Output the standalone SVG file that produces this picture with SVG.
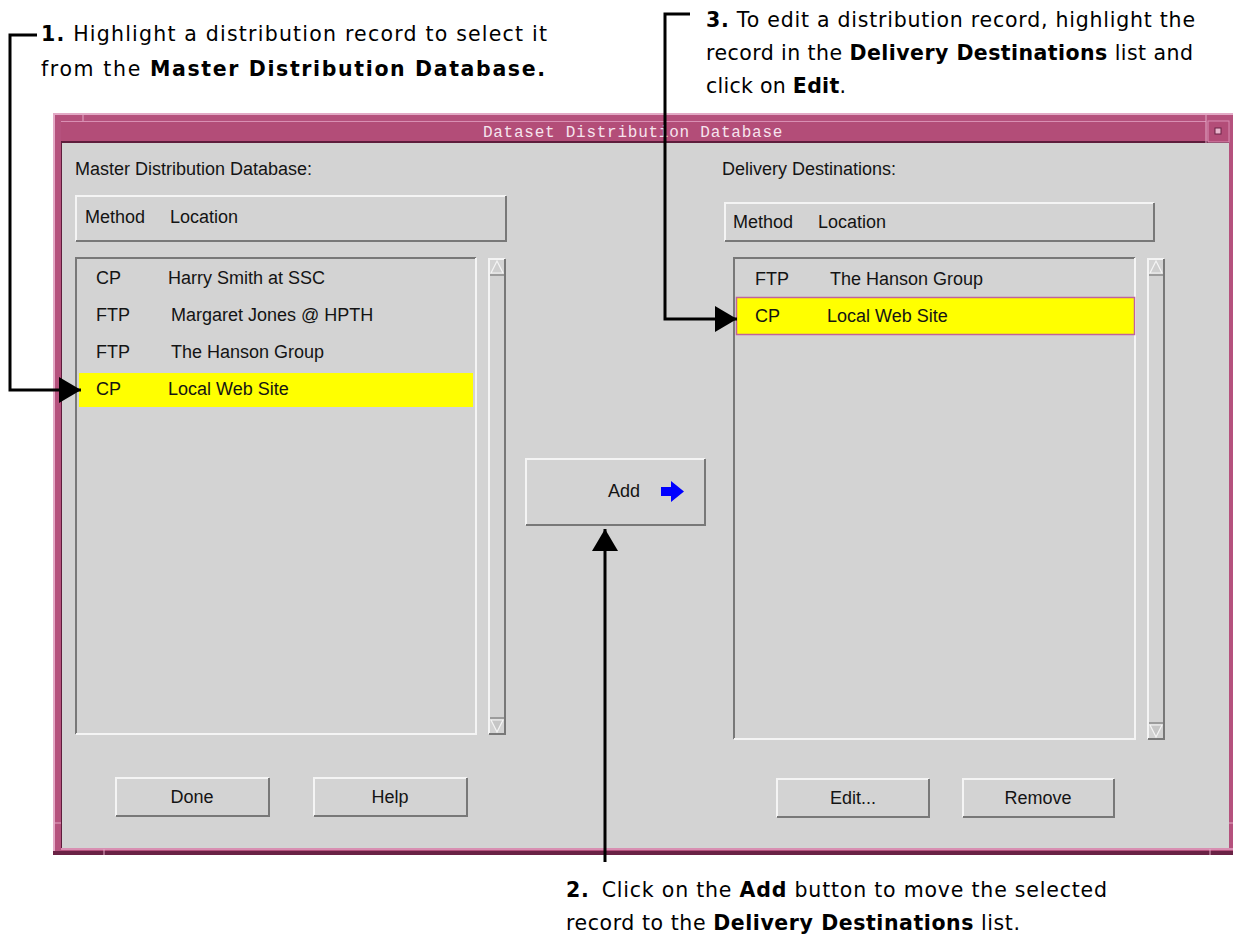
<svg xmlns="http://www.w3.org/2000/svg" width="1233" height="937" viewBox="0 0 1233 937">
<defs>
<style>
.face{fill:#d3d3d3}
.hi{stroke:#f4f4f4;stroke-width:2;fill:none}
.sh{stroke:#787878;stroke-width:2;fill:none}
.ui{font-family:"Liberation Sans",Arial,sans-serif;font-size:18px;fill:#141414}
.title{font-family:"Liberation Mono","DejaVu Sans Mono",monospace;font-size:16px;fill:#f6e4ee;letter-spacing:0.75px}
.note{font-family:"DejaVu Sans",sans-serif;font-size:20.5px;fill:#000}
.b{font-weight:bold}
.conn{stroke:#000;stroke-width:3;fill:none}
.sel{fill:#ffff00}
</style>
<marker id="ah" markerUnits="userSpaceOnUse" markerWidth="23" markerHeight="26" refX="22" refY="13" orient="auto">
<path d="M0,0 L22,13 L0,26 Z" fill="#000"/>
</marker>
</defs>
<rect width="1233" height="937" fill="#fff"/>

<g id="window">
<rect x="53" y="113" width="1180" height="742" fill="#b5517d"/>
<path d="M53,114 H1233 M54,113 V855" stroke="#e3aac6" stroke-width="2"/>
<path d="M53,853 H1233" stroke="#6a2245" stroke-width="4"/>
<path d="M61,849 H1233" stroke="#d88fb2" stroke-width="2"/>
<rect x="61" y="121" width="1145" height="21" fill="#b34d78"/>
<path d="M61,121.5 H1206" stroke="#d98fb3" stroke-width="1"/>
<path d="M61,142 H1229" stroke="#5e1d3c" stroke-width="2"/>
<path d="M83,113 V121 M1206,113 V143 M61,823 H53 M1229,823 H1233 M104,849 V855 M1210,849 V855" stroke="#e3aac6" stroke-width="1"/>
<rect x="1208" y="121" width="21" height="21" fill="#b34d78" stroke="#d98fb3" stroke-width="1"/>
<rect x="1215" y="128" width="6" height="6" fill="#e8b6cd" stroke="#6a2245" stroke-width="1"/>
<rect x="61" y="143" width="1168" height="705" class="face"/>
<path d="M61.5,143 V848" stroke="#5e1d3c" stroke-width="1"/>
<text x="633" y="137" class="title" text-anchor="middle">Dataset Distribution Database</text>
</g>

<g id="labels">
<text x="75" y="175" class="ui">Master Distribution Database:</text>
<text x="722" y="175" class="ui">Delivery Destinations:</text>
</g>

<g id="header-left">
<rect x="75" y="195" width="432" height="47" class="face"/>
<path d="M76,241 V196 H506" class="hi"/>
<path d="M76,241 H506 V196" class="sh"/>
<text x="85" y="223" class="ui">Method</text>
<text x="170" y="223" class="ui">Location</text>
</g>

<g id="header-right">
<rect x="724" y="202" width="431" height="40" class="face"/>
<path d="M725,241 V203 H1154" class="hi"/>
<path d="M725,241 H1154 V203" class="sh"/>
<text x="733" y="228" class="ui">Method</text>
<text x="818" y="228" class="ui">Location</text>
</g>

<g id="list-left">
<rect x="75" y="257" width="402" height="478" class="face"/>
<path d="M76,734 V258 H476" class="sh"/>
<path d="M76,734 H476 V258" class="hi"/>
<text x="96" y="284" class="ui">CP</text><text x="168" y="284" class="ui">Harry Smith at SSC</text>
<text x="96" y="321" class="ui">FTP</text><text x="171" y="321" class="ui">Margaret Jones @ HPTH</text>
<text x="96" y="358" class="ui">FTP</text><text x="171" y="358" class="ui">The Hanson Group</text>
<rect x="79" y="373" width="394" height="34" class="sel"/>
<text x="96" y="395" class="ui">CP</text><text x="168" y="395" class="ui">Local Web Site</text>
</g>

<g id="scroll-left">
<rect x="488" y="258" width="18" height="477" class="face"/>
<path d="M489,734 V259 H505" class="hi"/>
<path d="M489,734 H505 V259" class="sh"/>
<path d="M490,275 H504 M490,718 H504" stroke="#8a8a8a" stroke-width="1.5"/>
<path d="M491,273 L497,261 L503,273 Z" fill="#cfcfcf" stroke="#f4f4f4" stroke-width="1.2"/>
<path d="M491,720 L497,732 L503,720 Z" fill="#c6c6c6" stroke="#f4f4f4" stroke-width="1.2"/>
</g>

<g id="add-button">
<rect x="525" y="458" width="181" height="68" class="face"/>
<path d="M526,525 V459 H705" class="hi"/>
<path d="M526,525 H705 V459" class="sh"/>
<text x="608" y="497" class="ui">Add</text>
<path d="M661,487 H671 V481 L684,491.5 L671,502 V496 H661 Z" fill="#0000ff"/>
</g>

<g id="list-right">
<rect x="733" y="257" width="403" height="483" class="face"/>
<path d="M734,739 V258 H1135" class="sh"/>
<path d="M734,739 H1135 V258" class="hi"/>
<text x="755" y="285" class="ui">FTP</text><text x="830" y="285" class="ui">The Hanson Group</text>
<rect x="736.5" y="297.5" width="398" height="37" class="sel" stroke="#c0649a" stroke-width="1.5"/>
<text x="755" y="322" class="ui">CP</text><text x="827" y="322" class="ui">Local Web Site</text>
</g>

<g id="scroll-right">
<rect x="1147" y="258" width="18" height="482" class="face"/>
<path d="M1148,739 V259 H1164" class="hi"/>
<path d="M1148,739 H1164 V259" class="sh"/>
<path d="M1149,275 H1163 M1149,723 H1163" stroke="#8a8a8a" stroke-width="1.5"/>
<path d="M1150,273 L1156,261 L1162,273 Z" fill="#cfcfcf" stroke="#f4f4f4" stroke-width="1.2"/>
<path d="M1150,725 L1156,737 L1162,725 Z" fill="#c6c6c6" stroke="#f4f4f4" stroke-width="1.2"/>
</g>

<g id="btn-done">
<rect x="115" y="777" width="155" height="40" class="face"/>
<path d="M116,816 V778 H269" class="hi"/><path d="M116,816 H269 V778" class="sh"/>
<text x="192" y="803" class="ui" text-anchor="middle">Done</text>
</g>
<g id="btn-help">
<rect x="313" y="777" width="155" height="40" class="face"/>
<path d="M314,816 V778 H467" class="hi"/><path d="M314,816 H467 V778" class="sh"/>
<text x="390" y="803" class="ui" text-anchor="middle">Help</text>
</g>
<g id="btn-edit">
<rect x="776" y="778" width="154" height="40" class="face"/>
<path d="M777,817 V779 H929" class="hi"/><path d="M777,817 H929 V779" class="sh"/>
<text x="853" y="804" class="ui" text-anchor="middle">Edit...</text>
</g>
<g id="btn-remove">
<rect x="962" y="778" width="153" height="40" class="face"/>
<path d="M963,817 V779 H1114" class="hi"/><path d="M963,817 H1114 V779" class="sh"/>
<text x="1038" y="804" class="ui" text-anchor="middle">Remove</text>
</g>

<g id="connectors">
<path d="M37,35 H10 V390 H81" class="conn" marker-end="url(#ah)"/>
<path d="M690,14 H665 V319 H737" class="conn" marker-end="url(#ah)"/>
<path d="M605,862 V529" class="conn" marker-end="url(#ah)"/>
</g>

<g id="note-1">
<text x="41" y="41" class="note" textLength="506" lengthAdjust="spacing"><tspan class="b">1.</tspan> Highlight a distribution record to select it</text>
<text x="41" y="76" class="note" textLength="504" lengthAdjust="spacing">from the <tspan class="b">Master Distribution Database.</tspan></text>
</g>
<g id="note-3">
<text x="706" y="27" class="note" textLength="489" lengthAdjust="spacing"><tspan class="b">3.</tspan> To edit a distribution record, highlight the</text>
<text x="706" y="60" class="note" textLength="487" lengthAdjust="spacing">record in the <tspan class="b">Delivery Destinations</tspan> list and</text>
<text x="706" y="93" class="note" textLength="140" lengthAdjust="spacing">click on <tspan class="b">Edit</tspan>.</text>
</g>
<g id="note-2">
<text x="566" y="897" class="note" textLength="541" lengthAdjust="spacing"><tspan class="b">2.</tspan><tspan dx="12">Click on the </tspan><tspan class="b">Add</tspan> button to move the selected</text>
<text x="566" y="930" class="note" textLength="454" lengthAdjust="spacing">record to the <tspan class="b">Delivery Destinations</tspan> list.</text>
</g>
</svg>
